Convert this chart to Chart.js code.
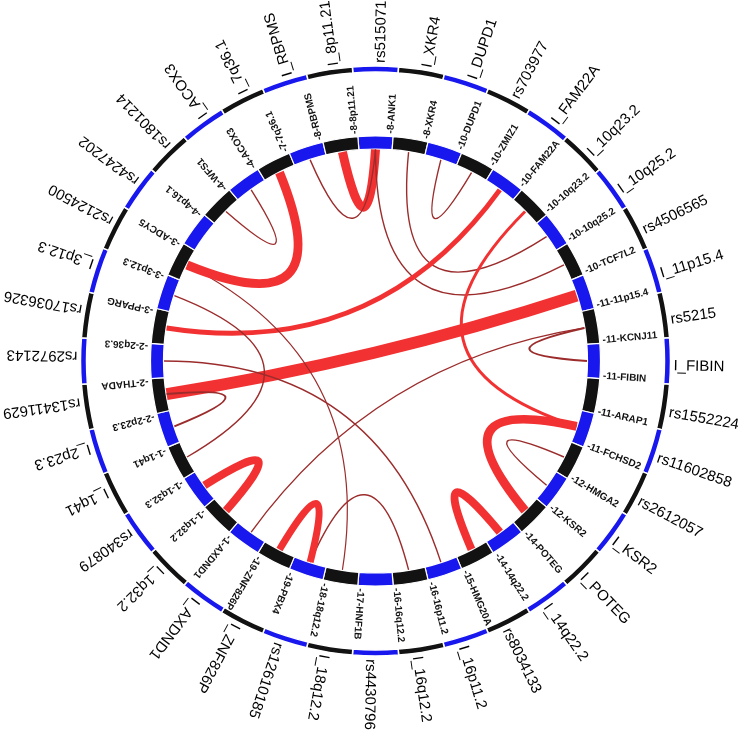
<!DOCTYPE html>
<html><head><meta charset="utf-8">
<script src="https://cdn.jsdelivr.net/npm/chart.js@4.4.1/dist/chart.umd.min.js"></script>
<style>html,body{margin:0;padding:0;background:#fff;}#wrap{width:740px;height:732px;}</style>
</head><body><div id="wrap"><canvas id="c" width="740" height="732"></canvas></div>
<script>
// Inner ring: chromosome-region labels (clockwise from top)
const regions = ['8-ANK1','8-XKR4','10-DUPD1','10-ZMIZ1','10-FAM22A','10-10q23.2','10-10q25.2','10-TCF7L2',
  '11-11p15.4','11-KCNJ11','11-FIBIN','11-ARAP1','11-FCHSD2','12-HMGA2','12-KSR2','14-POTEG','14-14q22.2',
  '15-HMG20A','16-16p11.2','16-16q12.2','17-HNF1B','18-18q12.2','19-PBX4','19-ZNF826P','1-AXDND1','1-1q32.2',
  '1-1q32.3','1-1q41','2-2p23.3','2-THADA','2-2q36.3','3-PPARG','3-3p12.3','3-ADCY5','4-4p16.1','4-WFS1',
  '4-ACOX3','7-7q36.1','8-RBPMS','8-8p11.21'];
// Outer ring: marker labels
const markers = ['rs515071','I_XKR4','I_DUPD1','rs703977','I_FAM22A','I_10q23.2','I_10q25.2','rs4506565',
  'I_11p15.4','rs5215','I_FIBIN','rs1552224','rs11602858','rs2612057','I_KSR2','I_POTEG','I_14q22.2',
  'rs8034133','I_16p11.2','I_16q12.2','rs4430796','I_18q12.2','rs12610185','I_ZNF826P','I_AXDND1','I_1q32.2',
  'rs340879','I_1q41','I_2p23.3','rs13411629','rs2972143','rs17036326','I_3p12.3','rs2124500','rs4247202',
  'rs1801214','I_ACOX3','I_7q36.1','I_RBPMS','I_8p11.21'];
// Segment sizes (all equal)
const segmentSize = [1,1,1,1,1,1,1,1,1,1,1,1,1,1,1,1,1,1,1,1,1,1,1,1,1,1,1,1,1,1,1,1,1,1,1,1,1,1,1,1];
// Links (indices into regions), strength and type (1 = strong/red, 0 = weak/dark red)
const linkFrom   = [39, 38, 0, 1, 2, 4, 5, 29, 9, 24, 12, 13, 16, 22, 30, 23, 25, 33, 32, 29, 37, 36];
const linkTo     = [ 0,  0, 7, 6, 3,31,12,  8,10,  9, 15, 14, 17, 19, 18, 22, 26, 21, 27, 28, 33, 35];
const linkWeight = [ 9, 1.4,1.4,1.4,1.4, 5, 3, 12, 2, 1.4, 9, 1.4, 8, 1.4, 1.4, 7, 8, 1.2, 1.4, 2, 9, 1.4];
const linkType   = [ 1,  0, 0, 0, 0, 1, 1,  1, 0,  0,  1,  0,  1,  0,  0,  1,  1,  0,  0,  0,  1,  0];

const BLUE = '#1818ee', BLACK = '#121212', RED = '#f23232', DARK = '#9c2c2c';
const ringColors = segmentSize.map((_, i) => i % 2 === 0 ? BLUE : BLACK);

const linkPlugin = {
  id: 'links',
  afterDatasetsDraw(chart) {
    const ctx = chart.ctx;
    const arcs = chart.getDatasetMeta(2).data;
    ctx.save();
    linkFrom.forEach((a, k) => {
      const b = linkTo[k];
      const A = arcs[a].getProps(['x','y','startAngle','endAngle','innerRadius']);
      const B = arcs[b].getProps(['startAngle','endAngle']);
      const ta = (A.startAngle + A.endAngle) / 2;
      const tb = (B.startAngle + B.endAngle) / 2;
      let d = tb - ta;
      while (d > Math.PI) d -= 2 * Math.PI;
      while (d <= -Math.PI) d += 2 * Math.PI;
      const dDeg = Math.abs(d) * 180 / Math.PI;
      const mid = ta + d / 2;
      const r = A.innerRadius - 0.5;
      const rc = r * Math.max(0, 0.545 - 0.0092 * dDeg);
      const x0 = A.x + r * Math.cos(ta), y0 = A.y + r * Math.sin(ta);
      const x1 = A.x + r * Math.cos(tb), y1 = A.y + r * Math.sin(tb);
      const cx = A.x + rc * Math.cos(mid), cy = A.y + rc * Math.sin(mid);
      ctx.beginPath();
      ctx.moveTo(x0, y0);
      ctx.quadraticCurveTo(cx, cy, x1, y1);
      ctx.lineWidth = linkWeight[k];
      ctx.strokeStyle = linkType[k] ? RED : DARK;
      ctx.lineCap = 'butt';
      ctx.stroke();
    });
    ctx.restore();
  }
};

const labelPlugin = {
  id: 'ringLabels',
  afterDraw(chart) {
    const ctx = chart.ctx;
    const inner = chart.getDatasetMeta(2).data;
    const outer = chart.getDatasetMeta(0).data;
    ctx.save();
    ctx.textAlign = 'left';
    ctx.textBaseline = 'middle';
    ctx.fillStyle = '#111';
    ctx.font = 'bold 10px "Liberation Sans", Arial, sans-serif';
    inner.forEach((arc, i) => {
      const p = arc.getProps(['x','y','startAngle','endAngle','outerRadius']);
      const t = (p.startAngle + p.endAngle) / 2 + 3.8 * Math.PI / 180;
      ctx.save();
      ctx.translate(p.x, p.y);
      ctx.rotate(t);
      ctx.fillText('-' + regions[i], p.outerRadius + 3, 0);
      ctx.restore();
    });
    ctx.fillStyle = '#000';
    ctx.font = '15px "Liberation Sans", Arial, sans-serif';
    outer.forEach((arc, i) => {
      const p = arc.getProps(['x','y','startAngle','endAngle','outerRadius']);
      const t = (p.startAngle + p.endAngle) / 2 + 1.0 * Math.PI / 180;
      ctx.save();
      ctx.translate(p.x, p.y);
      ctx.rotate(t);
      ctx.fillText(markers[i], p.outerRadius + 3, 0);
      ctx.restore();
    });
    ctx.restore();
  }
};

new Chart(document.getElementById('c'), {
  type: 'doughnut',
  data: {
    labels: regions,
    datasets: [
      { label: 'markers', data: segmentSize, backgroundColor: ringColors, borderColor: '#fff', borderWidth: 1.5, weight: 6 },
      { label: 'spacer', data: segmentSize, backgroundColor: 'rgba(0,0,0,0)', borderWidth: 0, weight: 64 },
      { label: 'regions', data: segmentSize, backgroundColor: ringColors, borderColor: '#fff', borderWidth: 1.2, weight: 13 }
    ]
  },
  options: {
    responsive: false,
    animation: false,
    rotation: -4.5,
    radius: 295,
    cutout: '71.864%',
    layout: { padding: { left: 11, right: 0, top: 0, bottom: 10 } },
    plugins: { legend: { display: false }, tooltip: { enabled: false } },
    events: []
  },
  plugins: [linkPlugin, labelPlugin]
});
</script>
</body></html>
